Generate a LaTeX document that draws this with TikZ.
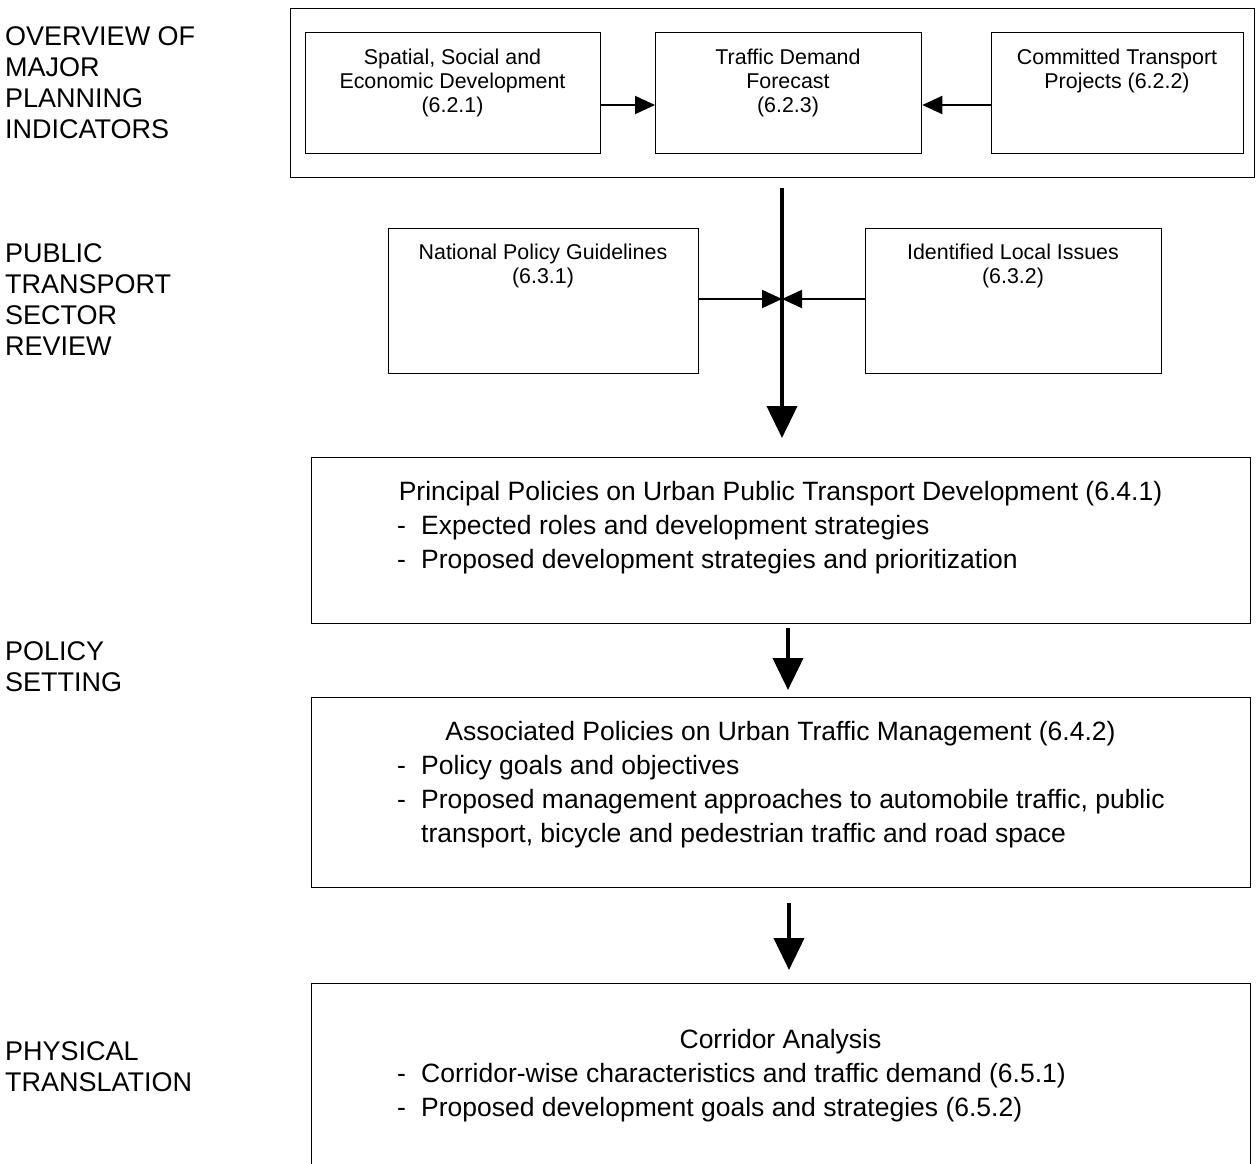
\documentclass[tikz,border=0pt]{standalone}
\usepackage{fontspec}
\setmainfont{Liberation Sans}
\usetikzlibrary{arrows.meta}
\begin{document}
\begin{tikzpicture}[x=1pt,y=-1pt,
  box/.style={draw, line width=1.3pt, anchor=north west, inner sep=0pt},
  lbl/.style={anchor=base west, inner sep=0pt, font=\fontsize{27}{30.8}\selectfont},
  smalltxt/.style={anchor=base, inner sep=0pt, font=\fontsize{21.4}{24}\selectfont},
  bigtxt/.style={anchor=base, inner sep=0pt, font=\fontsize{26.5}{34}\selectfont},
  bullets/.style={anchor=base west, inner sep=0pt, font=\fontsize{26.5}{34}\selectfont},
  thinarrow/.style={line width=2pt, -{Triangle[length=20pt,width=18pt]}},
  thickarrow/.style={line width=4pt, -{Triangle[length=32pt,width=30pt]}}]
\useasboundingbox (0,0) rectangle (1256,1164);
% left labels
\node[lbl] (l1) at (5,45.7) {\begin{tabular}[t]{@{}l@{}}OVERVIEW OF\\MAJOR\\PLANNING\\INDICATORS\end{tabular}};
\node[lbl] (l2) at (5,262.7) {\begin{tabular}[t]{@{}l@{}}PUBLIC\\TRANSPORT\\SECTOR\\REVIEW\end{tabular}};
\node[lbl] (l3) at (5,660.7) {\begin{tabular}[t]{@{}l@{}}POLICY\\SETTING\end{tabular}};
\node[lbl] (l4) at (5,1060.7) {\begin{tabular}[t]{@{}l@{}}PHYSICAL\\TRANSLATION\end{tabular}};
% boxes
\node[box, minimum width=964pt, minimum height=169pt] (b0) at (290,8) {};
\node[box, minimum width=295pt, minimum height=121pt] (b1) at (305,32) {};
\node[box, minimum width=266pt, minimum height=121pt] (b2) at (655,32) {};
\node[box, minimum width=252pt, minimum height=121pt] (b3) at (991,32) {};
\node[box, minimum width=310pt, minimum height=145pt] (npg) at (388,228) {};
\node[box, minimum width=296pt, minimum height=145pt] (ili) at (865,228) {};
\node[box, minimum width=939pt, minimum height=166pt] (pp) at (311,457) {};
\node[box, minimum width=939pt, minimum height=190pt] (ap) at (311,697) {};
\node[box, minimum width=939pt, minimum height=220pt] (ca) at (311,983) {};
% texts
\node[smalltxt] (t1) at (452.5,64.7) {\begin{tabular}[t]{@{}c@{}}Spatial, Social and\\Economic Development\\(6.2.1)\end{tabular}};
\node[smalltxt] (t2) at (788,64.7) {\begin{tabular}[t]{@{}c@{}}Traffic Demand\\Forecast\\(6.2.3)\end{tabular}};
\node[smalltxt] (t3) at (1117,64.7) {\begin{tabular}[t]{@{}c@{}}Committed Transport\\Projects (6.2.2)\end{tabular}};
\node[smalltxt] (t4) at (543,259.7) {\begin{tabular}[t]{@{}c@{}}National Policy Guidelines\\(6.3.1)\end{tabular}};
\node[smalltxt] (t5) at (1013,259.7) {\begin{tabular}[t]{@{}c@{}}Identified Local Issues\\(6.3.2)\end{tabular}};
\node[bigtxt] (t6) at (780.5,500.5) {Principal Policies on Urban Public Transport Development (6.4.1)};
\node[bullets] (t6b) at (397,534.5) {\begin{tabular}[t]{@{}p{24pt}@{}l@{}}-&Expected roles and development strategies\\-&Proposed development strategies and prioritization\end{tabular}};
\node[bigtxt] (t7) at (780.5,740.5) {Associated Policies on Urban Traffic Management (6.4.2)};
\node[bullets] (t7b) at (397,774.5) {\begin{tabular}[t]{@{}p{24pt}@{}l@{}}-&Policy goals and objectives\\-&Proposed management approaches to automobile traffic, public\\&transport, bicycle and pedestrian traffic and road space\end{tabular}};
\node[bigtxt] (t8) at (780.5,1048.5) {Corridor Analysis};
\node[bullets] (t8b) at (397,1082.5) {\begin{tabular}[t]{@{}p{24pt}@{}l@{}}-&Corridor-wise characteristics and traffic demand (6.5.1)\\-&Proposed development goals and strategies (6.5.2)\end{tabular}};
% connectors
\coordinate (ya) at (0,105);
\draw[thinarrow] (b1.east |- ya) -- (b2.west |- ya);
\draw[thinarrow] (b3.west |- ya) -- (b2.east |- ya);
\coordinate (ms) at (782,188);
\coordinate (me) at (782,438);
\draw[thickarrow] (ms) -- (me);
\coordinate (mm) at (782,299);
\draw[thinarrow] (npg.east |- mm) -- (mm);
\draw[thinarrow] (ili.west |- mm) -- (mm);
\coordinate (a2s) at (788,628);
\coordinate (a2e) at (788,690);
\draw[thickarrow] (a2s) -- (a2e);
\coordinate (a3s) at (789,903);
\coordinate (a3e) at (789,970);
\draw[thickarrow] (a3s) -- (a3e);
\end{tikzpicture}
\end{document}
